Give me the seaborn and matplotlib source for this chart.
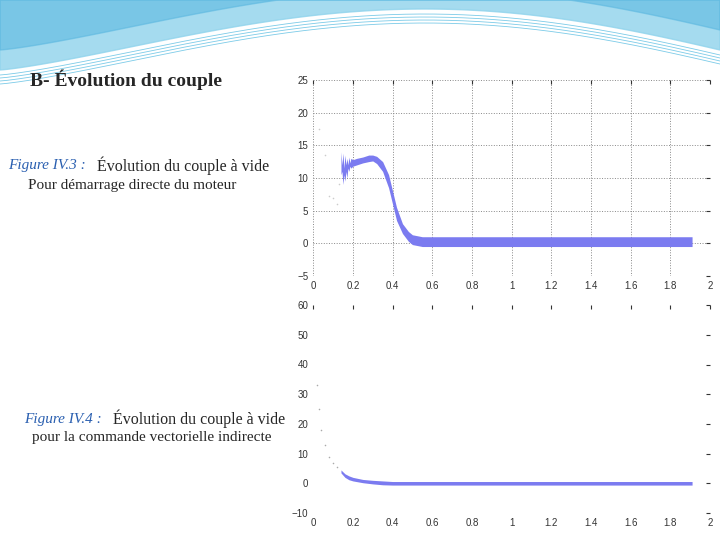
import numpy as np
import matplotlib
matplotlib.use("Agg")
import matplotlib.pyplot as plt
import seaborn as sns

sns.set_style("white")
plt.rcParams['font.family'] = ['Liberation Serif', 'DejaVu Serif']

# Figure IV.3 : couple, démarrage direct
t1 = [0.14, 0.145, 0.15, 0.155, 0.16, 0.165, 0.17, 0.175, 0.18, 0.185, 0.19, 0.2, 0.22, 0.25, 0.28, 0.30, 0.32, 0.35, 0.38, 0.40, 0.42, 0.45, 0.48, 0.50, 0.55, 0.60, 0.65, 1.91]
upper1 = [14, 12, 13.8, 11.5, 13.5, 12, 13, 12, 13.2, 12.3, 13, 12.8, 13, 13.2, 13.5, 13.5, 13.3, 12.5, 10.5, 8, 5.5, 3, 1.8, 1.3, 1.0, 1.0, 1.0, 1.0]
lower1 = [10.5, 11, 9, 10.5, 9.5, 11, 10, 11.5, 11, 11.8, 11.5, 11.8, 12, 12.3, 12.5, 12.6, 12.2, 11, 8.5, 6, 3.5, 1.5, 0.3, -0.2, -0.5, -0.5, -0.5, -0.5]
dots1_t = [0.03, 0.06, 0.08, 0.10, 0.12, 0.13]
dots1_y = [17.5, 13.5, 7.3, 7.0, 6.0, 9.0]

# Figure IV.4 : couple, commande vectorielle indirecte
t2 = [0.14, 0.16, 0.18, 0.20, 0.25, 0.30, 0.35, 0.40, 1.91]
upper2 = [4.5, 3.2, 2.5, 2.0, 1.3, 1.0, 0.8, 0.6, 0.6]
lower2 = [3.5, 2.0, 1.2, 0.8, 0.2, -0.2, -0.5, -0.6, -0.6]
dots2_t = [0.02, 0.03, 0.04, 0.06, 0.08, 0.10, 0.12]
dots2_y = [33, 25, 18, 13, 9, 7, 5.5]

xticks = [0, 0.2, 0.4, 0.6, 0.8, 1, 1.2, 1.4, 1.6, 1.8, 2]
xlabels = ["0", "0.2", "0.4", "0.6", "0.8", "1", "1.2", "1.4", "1.6", "1.8", "2"]

band = "#7b7bf0"
fig = plt.figure(figsize=(7.2, 5.4), dpi=100)

# decorative swoosh
bg = fig.add_axes([0, 0, 1, 1], zorder=-5)
bg.set_xlim(0, 720); bg.set_ylim(540, 0); bg.axis("off")
xx = np.linspace(0, 720, 200)
top = np.zeros_like(xx)
low = 70 - 60 * np.sin(np.pi * xx / 720) * (xx / 720) ** 0.3 - 20 * (xx / 720)
bg.fill_between(xx, top, np.clip(low, 0, None), color="#8fd3ec", alpha=0.8)
bg.fill_between(xx, top, np.clip(low - 20, 0, None), color="#5cb8e0", alpha=0.6)
for k in range(4):
    bg.plot(xx, np.clip(low + 5 + 3 * k, 0, None), color="#7ccbe8", lw=0.6)

fs = 7
def style(ax):
    ax.set_xlim(0, 2)
    ax.set_xticks(xticks)
    ax.set_xticklabels(xlabels)
    ax.tick_params(labelsize=fs, colors="#333333", length=3, direction="in", top=True, right=True)
    for lab in ax.get_xticklabels() + ax.get_yticklabels():
        lab.set_fontfamily("Liberation Sans")
    for s in ax.spines.values():
        s.set_visible(False)

ax1 = fig.add_axes([0.435, 0.489, 0.551, 0.363])
ax1.fill_between(t1, lower1, upper1, color=band, lw=0)
sns.scatterplot(x=dots1_t, y=dots1_y, ax=ax1, s=1, color="#cccccc", edgecolor=None)
ax1.set_ylim(-5, 25)
ax1.set_yticks([-5, 0, 5, 10, 15, 20, 25])
ax1.grid(True, ls=":", color="#888888", lw=0.7)
style(ax1)

ax2 = fig.add_axes([0.435, 0.05, 0.551, 0.385])
ax2.fill_between(t2, lower2, upper2, color=band, lw=0)
sns.scatterplot(x=dots2_t, y=dots2_y, ax=ax2, s=1, color="#aaaaaa", edgecolor=None)
ax2.set_ylim(-10, 60)
ax2.set_yticks([-10, 0, 10, 20, 30, 40, 50, 60])
style(ax2)

fig.text(30 / 720, 1 - 80 / 540, "B- Évolution du couple", fontsize=14, fontweight="bold", va="center")
blue = "#2a5fb0"
fig.text(8 / 720, 1 - 166 / 540, "Figure IV.3 :", fontsize=11, style="italic", color=blue, va="center")
fig.text(97 / 720, 1 - 166 / 540, "Évolution du couple à vide", fontsize=11.5, va="center")
fig.text(28 / 720, 1 - 185 / 540, "Pour démarrage directe du moteur", fontsize=11, va="center")
fig.text(24 / 720, 1 - 419 / 540, "Figure IV.4 :", fontsize=11, style="italic", color=blue, va="center")
fig.text(113 / 720, 1 - 419 / 540, "Évolution du couple à vide", fontsize=11.5, va="center")
fig.text(32 / 720, 1 - 438 / 540, "pour la commande vectorielle indirecte", fontsize=11, va="center")

fig.savefig("out.png", dpi=100)
